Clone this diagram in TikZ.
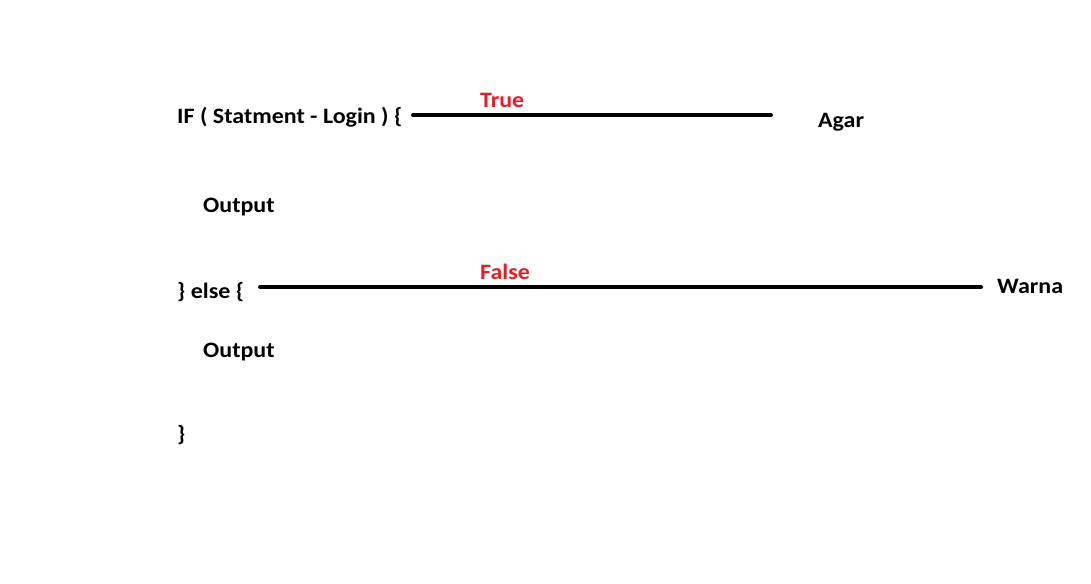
\documentclass[tikz,border=0pt]{standalone}
\usepackage{fontspec}
\setmainfont{Carlito}[FakeStretch=1.09]
\definecolor{paintred}{RGB}{237,28,36}
\begin{document}
\begin{tikzpicture}[x=1pt,y=-1pt,
  txt/.style={anchor=base west,inner sep=0pt,font=\fontsize{22}{24}\selectfont\bfseries},
  lbl/.style={txt,text=paintred},
  link/.style={line width=4pt,line cap=round}]
\useasboundingbox[fill=white] (0,0) rectangle (1091,583);
\node[txt] (if) at (177,124) {IF ( Statment - Login ) \{};
\node[txt] (out1) at (203,212) {Output};
\node[txt] (else) at (177,298) {\} else \{};
\node[txt] (out2) at (203,357) {Output};
\node[txt] (close) at (177,441) {\}};
\node[txt] (agar) at (818,128) {Agar};
\node[txt] (warna) at (997,293) {Warna};
\node[lbl] (true) at (480,107) {True};
\node[lbl] (false) at (480,279) {False};
\coordinate (t1) at (413,115);
\coordinate (t2) at (771,115);
\coordinate (f1) at (260,287);
\coordinate (f2) at (981,287);
\draw[link] (t1) -- (t2);
\draw[link] (f1) -- (f2);
\end{tikzpicture}
\end{document}
